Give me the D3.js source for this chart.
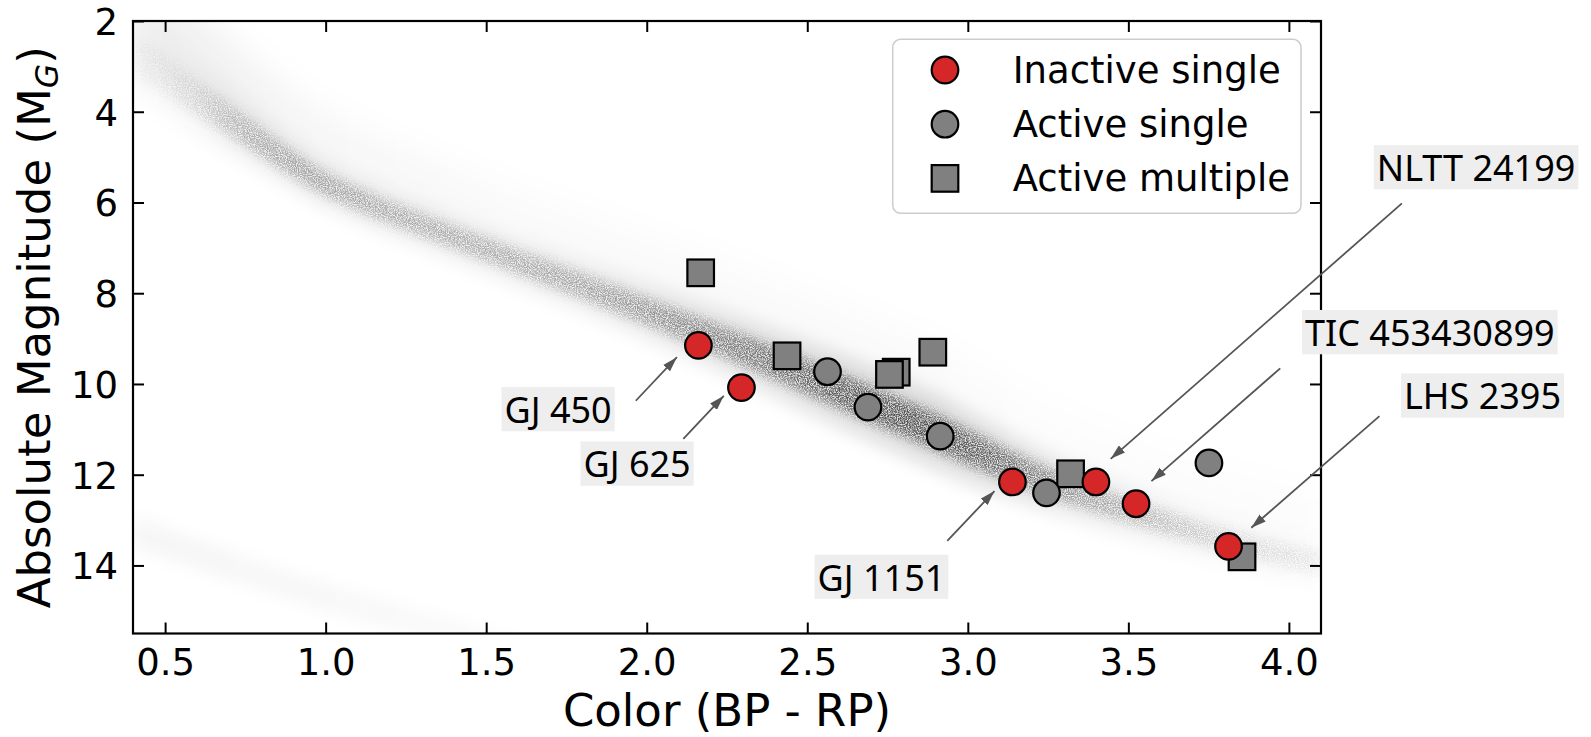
<!DOCTYPE html>
<html>
<head>
<meta charset="utf-8">
<script src="https://cdn.jsdelivr.net/npm/d3@7"></script>
<style>
  html, body { margin: 0; padding: 0; background: #ffffff; }
  svg { display: block; }
</style>
</head>
<body>
<svg id="chart" width="1591" height="737"></svg>
<script>
// ---- Background field population: main-sequence ridge (colour, magnitude, spread, density)
const msColor   = [0.40,0.50,0.60,0.70,0.80,0.90,1.00,1.20,1.40,1.60,1.80,2.00,2.20,2.40,2.60,2.80,2.90,3.00,3.10,3.20,3.30,3.40,3.50,3.60,3.70,3.80,3.90,4.00,4.10];
const msMag     = [2.70,3.20,3.70,4.18,4.68,5.17,5.62,6.24,6.76,7.32,7.84,8.40,8.95,9.55,10.15,10.75,11.05,11.40,11.72,12.02,12.30,12.55,12.80,13.02,13.24,13.45,13.63,13.80,13.95];
const msWidth   = [1.00,0.90,0.80,0.70,0.60,0.55,0.50,0.50,0.50,0.52,0.55,0.60,0.66,0.72,0.78,0.80,0.80,0.76,0.70,0.65,0.60,0.58,0.55,0.52,0.50,0.50,0.50,0.50,0.50];
const msDensity = [0.03,0.06,0.12,0.22,0.29,0.32,0.32,0.29,0.28,0.29,0.31,0.36,0.42,0.50,0.58,0.62,0.62,0.58,0.52,0.45,0.38,0.31,0.26,0.22,0.18,0.15,0.12,0.10,0.08];
// faint population sitting above the main sequence (binaries, subgiants)
const haloDensity = [0.06,0.06,0.055,0.05,0.045,0.04,0.035,0.03,0.025,0.02,0.02,0.02,0.02,0.02,0.02,0.02,0.02,0.015,0.015,0.01,0.01,0.01,0.01,0.01,0.01,0.01,0.01,0.01,0.01];

// white-dwarf sequence
const wdColor   = [0.40,0.60,0.80,1.00,1.20,1.40,1.60];
const wdMag     = [13.25,13.75,14.25,14.70,15.10,15.50,15.90];
const wdWidth   = [0.70,0.65,0.60,0.60,0.60,0.60,0.60];
const wdDensity = [0.035,0.035,0.032,0.03,0.026,0.022,0.02];

// ---- Target stars
const inactiveColor = [2.161, 2.295, 3.139, 3.399, 3.524, 3.812];
const inactiveMag   = [9.15, 10.08, 12.16, 12.16, 12.64, 13.58];
const activeColor   = [2.563, 2.689, 2.914, 3.245, 3.751];
const activeMag     = [9.73, 10.51, 11.15, 12.40, 11.74];
const multipleColor = [2.168, 2.437, 2.777, 2.756, 2.891, 3.320, 3.854];
const multipleMag   = [7.55, 9.38, 9.74, 9.79, 9.30, 11.98, 13.81];

// ---- Named stars: label baseline position, arrow tail and arrow head
const annLabels    = ["GJ 450", "GJ 625", "GJ 1151", "NLTT 24199", "TIC 453430899", "LHS 2395"];
const annTextColor = [1.724, 1.970, 2.731, 4.583, 4.439, 4.603];
const annTextMag   = [10.86, 12.06, 14.557, 5.527, 9.163, 10.56];
const annTailColor = [1.966, 2.114, 2.936, 4.352, 3.973, 4.282];
const annTailMag   = [10.37, 11.21, 13.46, 6.02, 9.655, 10.71];
const annHeadColor = [2.094, 2.240, 3.083, 3.445, 3.572, 3.883];
const annHeadMag   = [9.41, 10.26, 12.36, 11.65, 12.14, 13.17];

// ---- Axes
const xTicks = [0.5, 1.0, 1.5, 2.0, 2.5, 3.0, 3.5, 4.0];
const yTicks = [2, 4, 6, 8, 10, 12, 14];
const xDomain = [0.4, 4.1];
const yDomain = [2, 15.5];
const legendLabels = ["Inactive single", "Active single", "Active multiple"];

// ---- Layout
const W = 1591, Hgt = 737;
const margin = { left: 133, top: 21, right: 270, bottom: 103.5 };
const pw = W - margin.left - margin.right;
const ph = Hgt - margin.top - margin.bottom;

const RED = "#d62728", GREY = "#808080";
const FONT = "DejaVu Sans";
const ANN_FONT = "Noto Sans";

const svg = d3.select("#chart");
const defs = svg.append("defs");
const x = d3.scaleLinear().domain(xDomain).range([0, pw]);
const y = d3.scaleLinear().domain(yDomain).range([0, ph]);

const g = svg.append("g").attr("transform", `translate(${margin.left},${margin.top})`);

defs.append("clipPath").attr("id", "plotClip")
  .append("rect").attr("width", pw).attr("height", ph);

// horizontal density gradient along a sequence
function densityGradient(id, colors, dens, scale) {
  const grad = defs.append("linearGradient").attr("id", id)
    .attr("gradientUnits", "userSpaceOnUse")
    .attr("x1", x(colors[0])).attr("x2", x(colors[colors.length - 1]))
    .attr("y1", 0).attr("y2", 0);
  const span = x(colors[colors.length - 1]) - x(colors[0]);
  colors.forEach((c, i) => {
    grad.append("stop")
      .attr("offset", (x(c) - x(colors[0])) / span)
      .attr("stop-color", "#000")
      .attr("stop-opacity", Math.min(1, dens[i] * scale));
  });
}

function blurFilter(id, sd) {
  defs.append("filter").attr("id", id)
    .attr("x", "-10%").attr("y", "-30%").attr("width", "120%").attr("height", "160%")
    .append("feGaussianBlur").attr("stdDeviation", sd);
}
blurFilter("blurWide", 16);
blurFilter("blurMid", 8);

// speckled texture for the dense core of the field population
const grain = defs.append("filter").attr("id", "grain")
  .attr("x", "-5%").attr("y", "-30%").attr("width", "110%").attr("height", "160%")
  .attr("color-interpolation-filters", "sRGB");
grain.append("feGaussianBlur").attr("in", "SourceGraphic").attr("stdDeviation", 5.5).attr("result", "soft");
grain.append("feTurbulence").attr("type", "fractalNoise").attr("baseFrequency", 0.9)
  .attr("numOctaves", 2).attr("seed", 7).attr("result", "noise");
grain.append("feColorMatrix").attr("in", "noise").attr("type", "matrix")
  .attr("values", "0 0 0 0 0  0 0 0 0 0  0 0 0 0 0  0 0 0 3.0 -0.9").attr("result", "speck");
grain.append("feComposite").attr("in", "soft").attr("in2", "speck").attr("operator", "in");

densityGradient("gradHalo", msColor, haloDensity, 1);
densityGradient("gradHaze", msColor, msDensity, 0.18);
densityGradient("gradCore", msColor, msDensity, 1);
densityGradient("gradWD", wdColor, wdDensity, 1);

const ms = msColor.map((c, i) => ({ c, m: msMag[i], w: msWidth[i] }));
const wd = wdColor.map((c, i) => ({ c, m: wdMag[i], w: wdWidth[i] }));

function band(shift, widthFactor) {
  return d3.area()
    .x(d => x(d.c))
    .y0(d => y(d.m + shift + d.w * widthFactor / 2))
    .y1(d => y(d.m + shift - d.w * widthFactor / 2))
    .curve(d3.curveBasis);
}

const field = g.append("g").attr("clip-path", "url(#plotClip)");
field.append("path").datum(ms).attr("d", band(-0.9, 2.6))
  .attr("fill", "url(#gradHalo)").attr("filter", "url(#blurWide)");
field.append("path").datum(ms).attr("d", band(0, 2.2))
  .attr("fill", "url(#gradHaze)").attr("filter", "url(#blurMid)");
field.append("path").datum(ms).attr("d", band(0, 1))
  .attr("fill", "url(#gradCore)").attr("filter", "url(#grain)");
field.append("path").datum(wd).attr("d", band(0, 1))
  .attr("fill", "url(#gradWD)").attr("filter", "url(#blurMid)");

// ---- Axes with inward ticks on all four sides
function styleAxis(sel) {
  sel.select(".domain").remove();
  sel.attr("font-family", FONT).attr("font-size", 37);
  sel.selectAll(".tick line").attr("stroke", "#000").attr("stroke-width", 2);
  sel.selectAll(".tick text").attr("fill", "#000");
}
const gx = g.append("g").attr("transform", `translate(0,${ph})`)
  .call(d3.axisBottom(x).tickValues(xTicks).tickFormat(d3.format(".1f"))
    .tickSizeInner(-11).tickSizeOuter(0).tickPadding(15));
styleAxis(gx);
const gy = g.append("g")
  .call(d3.axisLeft(y).tickValues(yTicks).tickFormat(d3.format("d"))
    .tickSizeInner(-11).tickSizeOuter(0).tickPadding(15));
styleAxis(gy);
gy.selectAll(".tick text").attr("dy", "0.36em");
const gt = g.append("g")
  .call(d3.axisTop(x).tickValues(xTicks).tickFormat("").tickSizeInner(-11).tickSizeOuter(0));
styleAxis(gt);
const gr = g.append("g").attr("transform", `translate(${pw},0)`)
  .call(d3.axisRight(y).tickValues(yTicks).tickFormat("").tickSizeInner(-11).tickSizeOuter(0));
styleAxis(gr);

g.append("rect").attr("width", pw).attr("height", ph)
  .attr("fill", "none").attr("stroke", "#000").attr("stroke-width", 2.2);

// axis titles
g.append("text")
  .attr("x", pw / 2).attr("y", ph + 92.5)
  .attr("text-anchor", "middle").attr("font-family", FONT).attr("font-size", 45)
  .text("Color (BP - RP)");
const yl = svg.append("text")
  .attr("transform", "rotate(-90)")
  .attr("x", -(margin.top + ph / 2)).attr("y", 50)
  .attr("text-anchor", "middle").attr("font-family", FONT).attr("font-size", 45);
yl.append("tspan").text("Absolute Magnitude (M");
yl.append("tspan").attr("font-size", 31.5).attr("font-style", "italic").attr("dy", 8).text("G");
yl.append("tspan").attr("dy", -8).text(")");

// ---- Stars
const SQ = 26.6, R = 13.3;
const marks = g.append("g");
marks.selectAll("rect.multi")
  .data(multipleColor.map((c, i) => [c, multipleMag[i]]))
  .join("rect").attr("class", "multi")
  .attr("x", d => x(d[0]) - SQ / 2).attr("y", d => y(d[1]) - SQ / 2)
  .attr("width", SQ).attr("height", SQ)
  .attr("fill", GREY).attr("stroke", "#000").attr("stroke-width", 2.2);
marks.selectAll("circle.active")
  .data(activeColor.map((c, i) => [c, activeMag[i]]))
  .join("circle").attr("class", "active")
  .attr("cx", d => x(d[0])).attr("cy", d => y(d[1])).attr("r", R)
  .attr("fill", GREY).attr("stroke", "#000").attr("stroke-width", 2.2);
marks.selectAll("circle.inactive")
  .data(inactiveColor.map((c, i) => [c, inactiveMag[i]]))
  .join("circle").attr("class", "inactive")
  .attr("cx", d => x(d[0])).attr("cy", d => y(d[1])).attr("r", R)
  .attr("fill", RED).attr("stroke", "#000").attr("stroke-width", 2.2);

// ---- Legend
const lg = g.append("g").attr("transform", `translate(${pw - 20 - 408.3},18.3)`);
lg.append("rect").attr("width", 408.3).attr("height", 174).attr("rx", 8)
  .attr("fill", "#fff").attr("fill-opacity", 0.8)
  .attr("stroke", "#cccccc").attr("stroke-width", 1.5);
legendLabels.forEach((lab, i) => {
  const cy = 30.7 + i * 54.2, cx = 52.3;
  if (i < 2) {
    lg.append("circle").attr("cx", cx).attr("cy", cy).attr("r", R)
      .attr("fill", i === 0 ? RED : GREY).attr("stroke", "#000").attr("stroke-width", 2.2);
  } else {
    lg.append("rect").attr("x", cx - SQ / 2).attr("y", cy - SQ / 2).attr("width", SQ).attr("height", SQ)
      .attr("fill", GREY).attr("stroke", "#000").attr("stroke-width", 2.2);
  }
  lg.append("text").attr("x", 120).attr("y", cy + 12.8)
    .attr("font-family", FONT).attr("font-size", 37).attr("fill", "#000").text(lab);
});

// ---- Annotations
defs.append("marker").attr("id", "arrowHead")
  .attr("viewBox", "0 0 16 10").attr("refX", 16).attr("refY", 5)
  .attr("markerUnits", "userSpaceOnUse")
  .attr("markerWidth", 15).attr("markerHeight", 9.5).attr("orient", "auto")
  .append("path").attr("d", "M0,0 L16,5 L0,10 Z").attr("fill", "#555555");

const ann = g.append("g");
annLabels.forEach((lab, i) => {
  ann.append("line")
    .attr("x1", x(annTailColor[i])).attr("y1", y(annTailMag[i]))
    .attr("x2", x(annHeadColor[i])).attr("y2", y(annHeadMag[i]))
    .attr("stroke", "#555555").attr("stroke-width", 1.8)
    .attr("marker-end", "url(#arrowHead)");
  const tg = ann.append("g");
  const t = tg.append("text")
    .attr("x", x(annTextColor[i])).attr("y", y(annTextMag[i]))
    .attr("text-anchor", "middle").attr("font-family", ANN_FONT).attr("font-size", 36)
    .attr("fill", "#000").text(lab);
  const bb = t.node().getBBox();
  tg.insert("rect", "text")
    .attr("x", bb.x - 3).attr("width", bb.width + 6)
    .attr("y", y(annTextMag[i]) - 36).attr("height", 44.3)
    .attr("fill", "#eeeeee");
});
</script>
</body>
</html>
